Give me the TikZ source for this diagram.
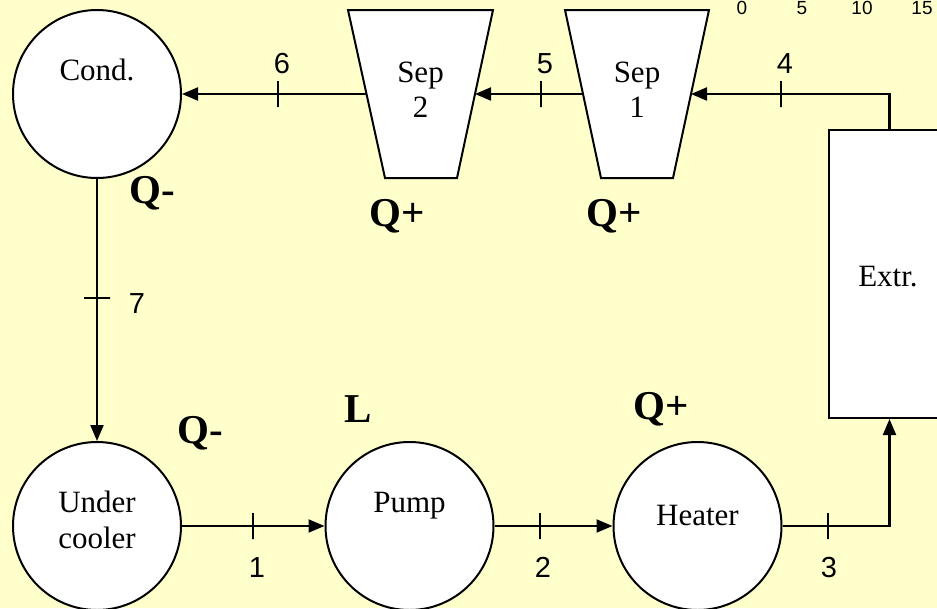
\documentclass[tikz,border=0pt]{standalone}
\usepackage{fontspec}
\setmainfont{Liberation Serif}
\newfontfamily\arialf{Liberation Sans}
\usetikzlibrary{arrows.meta}
\definecolor{bgyellow}{RGB}{255,255,204}
\begin{document}
\begin{tikzpicture}[x=1pt,y=-1pt,
  unit/.style={circle,draw,fill=white,line width=2pt,minimum size=168pt,inner sep=0pt},
  sepshape/.style={draw,fill=white,line width=2pt,line join=miter},
  boxshape/.style={rectangle,draw,fill=white,line width=2pt,inner sep=0pt,minimum width=121pt,minimum height=288pt},
  lbl/.style={font=\fontsize{31}{34}\selectfont,inner sep=0pt,anchor=base},
  num/.style={font=\arialf\fontsize{29}{30}\selectfont,inner sep=0pt,anchor=base},
  scalenum/.style={font=\arialf\fontsize{19}{20}\selectfont,inner sep=0pt,anchor=base},
  heat/.style={font=\bfseries\fontsize{41}{43}\selectfont,inner sep=0pt,anchor=base},
  flow/.style={line width=2.1pt,-{Triangle[length=16pt,width=13pt]}},
  tickv/.style={draw,line width=1.5pt,inner sep=0pt,minimum width=0pt,minimum height=26pt},
  tickh/.style={draw,line width=1.5pt,inner sep=0pt,minimum height=0pt,minimum width=26pt},
]
\useasboundingbox (0,0) rectangle (937,608);
\clip (0,0) rectangle (937,608);
\fill[bgyellow] (0,0) rectangle (937,608);

% units
\node[unit] (cond) at (97,94) {};
\node[unit] (under) at (97,526) {};
\node[unit] (pump) at (409.5,526) {};
\node[unit] (heater) at (697.5,526) {};
\node[boxshape] (extr) at (889.5,274) {};

\draw[sepshape] (348,10) -- (493,10) -- (457,178) -- (385,178) -- cycle;
\draw[sepshape] (565,10) -- (709,10) -- (673,178) -- (601,178) -- cycle;
\coordinate (sep2l) at (366.5,94);
\coordinate (sep2r) at (475,94);
\coordinate (sep1l) at (583,94);
\coordinate (sep1r) at (691,94);

% unit texts
\node[lbl] (condtxt) at (97,80) {Cond.};
\node[lbl] (undertxt) at (97,512) {Under};
\node[lbl] (coolertxt) at (97,548) {cooler};
\node[lbl] (pumptxt) at (409.5,512) {Pump};
\node[lbl] (heatertxt) at (697.5,525) {Heater};
\node[lbl] (extrtxt) at (888,286) {Extr.};
\node[lbl] (sep2a) at (420.5,82) {Sep};
\node[lbl] (sep2b) at (420.5,117) {2};
\node[lbl] (sep1a) at (637,82) {Sep};
\node[lbl] (sep1b) at (637,117) {1};

% connectors
\draw[flow] (under.east) -- (pump.west);
\draw[flow] (pump.east) -- (heater.west);
\draw[flow] (heater.east) -| (extr.south);
\draw[flow] (extr.north) |- (sep1r);
\draw[flow] (sep1l) -- (sep2r);
\draw[flow] (sep2l) -- (cond.east);
\draw[flow] (cond.south) -- (under.north);

% ticks
\node[tickv] (t1) at (253,526) {};
\node[tickv] (t2) at (540,526) {};
\node[tickv] (t3) at (828,526) {};
\node[tickv] (t4) at (781,94) {};
\node[tickv] (t5) at (541,94) {};
\node[tickv] (t6) at (278,94) {};
\node[tickh] (t7) at (97,298) {};

% stream numbers
\node[num] (n1) at (257,577) {1};
\node[num] (n2) at (543,577) {2};
\node[num] (n3) at (829,577) {3};
\node[num] (n4) at (785,73) {4};
\node[num] (n5) at (545,73) {5};
\node[num] (n6) at (282,73) {6};
\node[num] (n7) at (137,313) {7};

% heat / work labels
\node[heat] (qc) at (152,203) {Q-};
\node[heat] (qs2) at (397,226) {Q+};
\node[heat] (qs1) at (614,226) {Q+};
\node[heat] (lp) at (358,422) {L};
\node[heat] (qh) at (661,419) {Q+};
\node[heat] (qu) at (200,443) {Q-};

% scale
\node[scalenum] (s0) at (742,14) {0};
\node[scalenum] (s5) at (802,14) {5};
\node[scalenum] (s10) at (862,14) {10};
\node[scalenum] (s15) at (922,14) {15};
\end{tikzpicture}
\end{document}
